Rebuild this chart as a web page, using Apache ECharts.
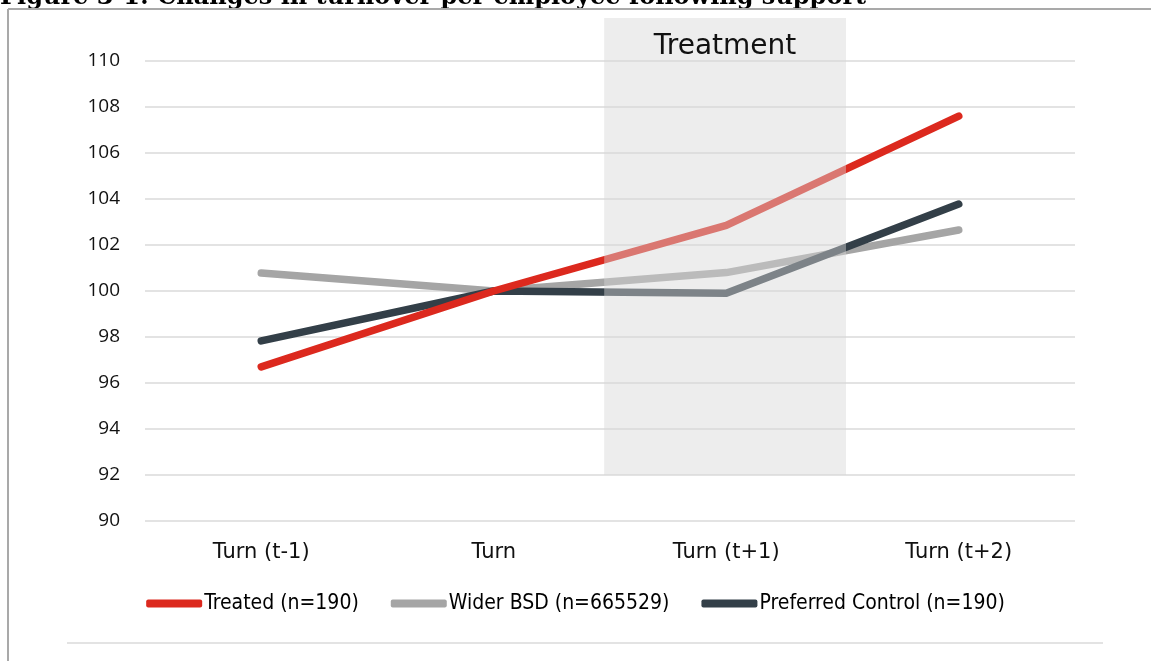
<!DOCTYPE html>
<html>
<head>
<meta charset="utf-8">
<script src="https://cdn.jsdelivr.net/npm/echarts@6/dist/echarts.min.js"></script>
<style>
  html, body { margin: 0; padding: 0; background: #ffffff; }
  #chart { width: 1151px; height: 661px; }
</style>
</head>
<body>
<div id="chart"></div>
<script>
// Periods relative to the support year
const categories = ['Turn (t-1)', 'Turn', 'Turn (t+1)', 'Turn (t+2)'];

// Turnover per employee, indexed to 100 in the support year
const treated = [96.7, 100, 102.85, 107.6];
const widerBSD = [100.78, 100, 100.8, 102.65];
const preferredControl = [97.83, 100, 99.9, 103.78];

const seriesNames = ['Treated (n=190)', 'Wider BSD (n=665529)', 'Preferred Control (n=190)'];

// Treatment window on a 0..4 continuous scale over the category slots, and its vertical span
const treatmentSpan = [1.975, 3.015];
const treatmentRange = [92, 111.87];

const yTicks = { min: 90, max: 110, interval: 2 };

const colors = { treated: '#dc291e', wider: '#a5a5a5', control: '#333f48' };

const chart = echarts.init(document.getElementById('chart'), null, { renderer: 'canvas' });

const gridL = 145, gridR = 76, gridT = 61, gridB = 140;

function lineSeries(name, data, color, z) {
  return {
    name: name,
    type: 'line',
    data: data,
    xAxisIndex: 0,
    yAxisIndex: 0,
    symbol: 'none',
    z: z,
    lineStyle: { color: color, width: 7.5, cap: 'round', join: 'round' },
    itemStyle: { color: color }
  };
}

chart.setOption({
  animation: false,
  backgroundColor: '#ffffff',
  graphic: [
    {
      type: 'text',
      left: 0,
      top: -14,
      z: 10,
      style: {
        text: 'Figure 3-1: Changes in turnover per employee following support',
        font: 'bold 24px "DejaVu Serif", serif',
        fill: '#000000'
      }
    },
    {
      type: 'line', z: 10,
      shape: { x1: 8, y1: 9, x2: 1151, y2: 9 },
      style: { stroke: '#a9a9a9', lineWidth: 2 }
    },
    {
      type: 'line', z: 10,
      shape: { x1: 8, y1: 9, x2: 8, y2: 661 },
      style: { stroke: '#a9a9a9', lineWidth: 2 }
    },
    {
      type: 'line', z: 10,
      shape: { x1: 67, y1: 643, x2: 1103, y2: 643 },
      style: { stroke: '#e3e3e3', lineWidth: 2 }
    }
  ],
  grid: [
    { left: gridL, right: gridR, top: gridT, bottom: gridB, containLabel: false },
    { left: gridL, right: gridR, top: 18, bottom: gridB, containLabel: false }
  ],
  legend: {
    data: seriesNames,
    bottom: 42,
    left: 'center',
    itemWidth: 56,
    itemHeight: 8,
    itemGap: 32,
    icon: 'roundRect',
    textStyle: {
      fontFamily: '"Liberation Sans Narrow", "DejaVu Sans Condensed", "Liberation Sans", sans-serif',
      fontSize: 21,
      color: '#000000',
      padding: [0, 0, 0, -3]
    }
  },
  xAxis: [
    {
      type: 'category',
      gridIndex: 0,
      data: categories,
      boundaryGap: true,
      axisLine: { show: false },
      axisTick: { show: false },
      axisLabel: {
        margin: 21,
        fontFamily: '"DejaVu Sans", sans-serif',
        fontSize: 21,
        color: '#111111'
      }
    },
    {
      type: 'value',
      gridIndex: 1,
      min: 0,
      max: 4,
      show: false
    }
  ],
  yAxis: [
    {
      type: 'value',
      gridIndex: 0,
      min: yTicks.min,
      max: yTicks.max,
      interval: yTicks.interval,
      axisLine: { show: false },
      axisTick: { show: false },
      axisLabel: {
        margin: 25,
        fontFamily: '"Open Sans", sans-serif',
        fontSize: 19,
        color: '#111111'
      },
      splitLine: { lineStyle: { color: '#dadada', width: 1.5 } }
    },
    {
      type: 'value',
      gridIndex: 1,
      min: yTicks.min,
      max: treatmentRange[1],
      show: false
    }
  ],
  series: [
    lineSeries(seriesNames[1], widerBSD, colors.wider, 2),
    lineSeries(seriesNames[2], preferredControl, colors.control, 3),
    lineSeries(seriesNames[0], treated, colors.treated, 4),
    {
      type: 'custom',
      name: 'Treatment',
      xAxisIndex: 1,
      yAxisIndex: 1,
      z: 8,
      silent: true,
      data: [[treatmentSpan[0], treatmentSpan[1], treatmentRange[0], treatmentRange[1]]],
      renderItem: function (params, api) {
        const p1 = api.coord([api.value(0), api.value(3)]);
        const p2 = api.coord([api.value(1), api.value(2)]);
        return {
          type: 'group',
          children: [
            {
              type: 'rect',
              shape: { x: p1[0], y: p1[1], width: p2[0] - p1[0], height: p2[1] - p1[1] },
              style: { fill: 'rgba(216,216,216,0.45)' }
            },
            {
              type: 'text',
              x: (p1[0] + p2[0]) / 2,
              y: p1[1] + 29,
              style: {
                text: 'Treatment',
                font: '28px "DejaVu Sans", sans-serif',
                fill: '#111111',
                align: 'center',
                verticalAlign: 'middle'
              }
            }
          ]
        };
      }
    }
  ]
});
</script>
</body>
</html>
